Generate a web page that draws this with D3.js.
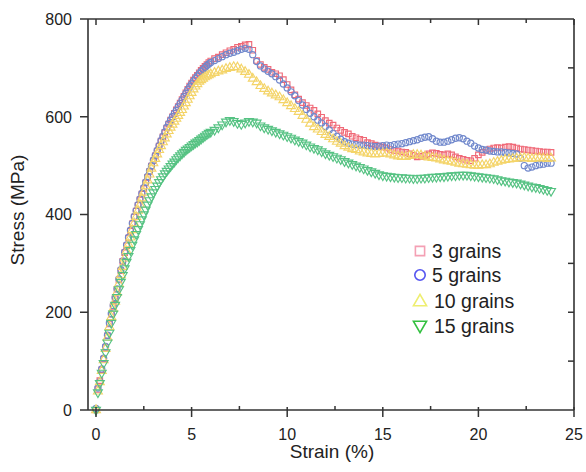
<!DOCTYPE html>
<html><head><meta charset="utf-8">
<script src="https://cdn.jsdelivr.net/npm/d3@7"></script>
<style>
html,body{margin:0;padding:0;background:#fff;}
svg{display:block;font-family:"Liberation Sans",Arial,sans-serif;}
</style></head>
<body><svg id="chart" width="586" height="472"></svg>
<script>
// ---- data ----
const strain = [
 0.0,0.1,0.2,0.3,0.4,0.5,0.6,0.7,0.8,0.9,1.0,1.1,1.2,1.3,1.4,1.5,1.6,1.7,1.8,1.9,
 2.0,2.1,2.2,2.3,2.4,2.5,2.6,2.7,2.8,2.9,3.0,3.1,3.2,3.3,3.4,3.5,3.6,3.7,3.8,3.9,
 4.0,4.1,4.2,4.3,4.4,4.5,4.6,4.7,4.8,4.9,5.0,5.1,5.2,5.3,5.4,5.5,5.6,5.7,5.8,5.9,6.0,
 6.2,6.4,6.6,6.8,7.0,7.2,7.4,7.6,7.8,8.0,
 8.2,8.4,8.6,8.8,9.0,9.2,9.4,9.6,9.8,10.0,
 10.2,10.4,10.6,10.8,11.0,11.2,11.4,11.6,11.8,12.0,
 12.2,12.4,12.6,12.8,13.0,13.2,13.4,13.6,13.8,14.0,
 14.2,14.4,14.6,14.8,15.0,15.2,15.4,15.6,15.8,16.0,
 16.2,16.4,16.6,16.8,17.0,17.2,17.4,17.6,17.8,18.0,
 18.2,18.4,18.6,18.8,19.0,19.2,19.4,19.6,19.8,20.0,
 20.2,20.4,20.6,20.8,21.0,21.2,21.4,21.6,21.8,22.0,
 22.2,22.4,22.6,22.8,23.0,23.2,23.4,23.6,23.8];

const grains3 = [
 0,42,60,82,104,128,152,176,196,212,228,247,266,285,304,322,336,352,366,381,
 395,407,419,430,442,453,465,476,488,499,510,520,530,540,550,559,568,577,585,593,
 600,607,614,621,628,635,642,649,656,663,669,675,680,685,690,695,699,703,707,711,714,
 719,722,727,731,735,738,742,744,747,748,
 736,715,707,701,697,691,688,684,676,666,
 655,645,636,629,623,618,613,606,599,592,
 587,583,577,572,568,565,560,557,554,552,
 547,545,542,540,538,536,533,531,530,528,
 527,524,521,518,519,521,524,526,525,523,
 522,524,522,518,515,513,511,510,515,522,
 527,531,534,536,537,536,538,539,538,536,
 534,533,532,531,530,529,528,528,527];

const grains5 = [
 3,45,58,84,106,130,153,178,197,214,230,248,268,287,305,323,338,353,368,382,
 396,408,420,432,443,455,466,478,489,500,511,521,531,541,551,560,569,578,586,593,
 600,607,613,620,627,634,641,648,655,661,667,673,678,683,688,693,697,701,705,708,711,
 715,719,723,727,730,732,735,738,740,738,
 727,713,704,698,693,688,682,675,667,659,
 651,643,633,624,615,607,600,593,587,580,
 573,566,560,554,549,546,544,543,542,542,
 541,540,539,540,541,542,541,543,544,545,
 547,549,551,553,556,558,559,555,550,548,
 548,550,553,556,557,555,550,546,540,536,
 533,532,530,529,528,528,527,526,525,524,
 515,500,495,497,500,502,503,505,505];

const grains10 = [
 0,38,57,80,102,125,148,170,190,207,222,240,258,276,293,310,325,339,353,368,
 382,395,408,420,433,445,458,470,482,494,505,514,523,532,540,548,556,564,571,578,
 584,590,596,602,608,614,621,628,635,642,649,656,662,667,672,675,678,681,683,685,687,
 690,693,695,698,700,702,701,697,692,686,
 678,671,663,657,652,648,644,640,634,628,
 622,616,610,602,594,586,579,574,569,563,
 559,554,549,545,540,537,534,532,529,527,
 525,524,523,524,525,525,523,521,519,518,
 518,520,522,522,521,519,517,516,515,513,
 511,509,508,506,504,503,502,501,500,500,
 501,501,503,506,508,510,512,513,514,515,
 515,516,515,514,515,516,515,514,515];

const grains15 = [
 0,36,55,76,96,118,138,158,178,197,215,231,247,262,276,290,303,315,327,338,
 349,360,370,380,390,400,410,420,429,437,445,452,459,466,472,478,484,489,494,499,
 504,508,513,517,521,525,528,532,535,538,541,544,547,549,552,555,558,561,564,567,569,
 573,578,584,590,593,591,587,585,588,591,
 590,588,582,578,575,572,569,566,563,560,
 557,553,550,547,543,539,536,533,529,525,
 522,519,516,513,509,506,503,500,497,494,
 491,488,485,482,480,479,478,477,476,476,
 475,475,474,474,475,475,476,477,477,478,
 478,479,480,480,481,481,481,480,479,478,
 477,476,475,474,472,470,469,467,466,465,
 463,461,459,457,456,454,452,450,448];

const seriesNames = ["3 grains","5 grains","10 grains","15 grains"];
const seriesValues = [grains3, grains5, grains10, grains15];
const seriesColors = ["#f06a78","#7088cc","#f4d468","#55c282"];
const legendColors = ["#f4a0b4","#5555f0","#eeee70","#33c040"];
const seriesSymbols = [d3.symbolSquare, d3.symbolCircle, d3.symbolTriangle, d3.symbolTriangle];
const seriesRotate = [0,0,0,180];

const xMajorTicks = [0,5,10,15,20,25];
const xMinorTicks = [2.5,7.5,12.5,17.5,22.5];
const yMajorTicks = [0,200,400,600,800];
const yRightTicks = [100,200,300,400,500,600,700];

// ---- layout ----
const svg = d3.select("#chart");
const x = d3.scaleLinear().domain([0,25]).range([96,574]);
const y = d3.scaleLinear().domain([0,800]).range([410,19]);
const pLeft = 88, pRight = x(25), pTop = y(800), pBottom = y(0);
const axisColor = "#333";

// data markers
seriesValues.forEach((vals, si) => {
  const sym = d3.symbol().type(seriesSymbols[si]).size(si < 2 ? 30 : 34);
  svg.append("g")
    .selectAll("path")
    .data(vals.map((v,i)=>[strain[i], v]))
    .join("path")
    .attr("d", sym)
    .attr("transform", d => `translate(${x(d[0])},${y(d[1])}) rotate(${seriesRotate[si]})`)
    .attr("fill", "none")
    .attr("stroke", seriesColors[si])
    .attr("stroke-width", 1.15);
});

// frame
const g = svg.append("g").attr("stroke", axisColor).attr("stroke-width", 1.6).attr("fill","none");
g.append("line").attr("x1",pLeft).attr("x2",pLeft).attr("y1",pTop).attr("y2",pBottom);
g.append("line").attr("x1",pRight).attr("x2",pRight).attr("y1",pTop).attr("y2",pBottom);
g.append("line").attr("x1",pLeft).attr("x2",pRight).attr("y1",pBottom).attr("y2",pBottom);
g.append("line").attr("x1",pLeft).attr("x2",pRight).attr("y1",pTop).attr("y2",pTop);

const tk = svg.append("g").attr("stroke", axisColor).attr("stroke-width", 1.5);
tk.selectAll(".yl").data(yMajorTicks).join("line")
  .attr("x1",pLeft-8).attr("x2",pLeft).attr("y1",d=>y(d)).attr("y2",d=>y(d));
tk.selectAll(".yr").data(yRightTicks).join("line")
  .attr("x1",pRight-6).attr("x2",pRight).attr("y1",d=>y(d)).attr("y2",d=>y(d));
tk.selectAll(".xb").data(xMajorTicks).join("line")
  .attr("x1",d=>x(d)).attr("x2",d=>x(d)).attr("y1",pBottom-3).attr("y2",pBottom+7);
tk.selectAll(".xbm").data(xMinorTicks).join("line")
  .attr("x1",d=>x(d)).attr("x2",d=>x(d)).attr("y1",pBottom-4).attr("y2",pBottom);
tk.selectAll(".xt").data(xMajorTicks).join("line")
  .attr("x1",d=>x(d)).attr("x2",d=>x(d)).attr("y1",pTop).attr("y2",pTop+6);
tk.selectAll(".xtm").data(xMinorTicks).join("line")
  .attr("x1",d=>x(d)).attr("x2",d=>x(d)).attr("y1",pTop).attr("y2",pTop+4);

// tick labels
svg.append("g").selectAll("text").data(yMajorTicks).join("text")
  .attr("x",72).attr("y",d=>y(d)).attr("dy","0.36em")
  .attr("text-anchor","end").attr("font-size",16).attr("fill","#222")
  .text(d=>d);
svg.append("g").selectAll("text").data(xMajorTicks).join("text")
  .attr("x",d=>x(d)).attr("y",440)
  .attr("text-anchor","middle").attr("font-size",16).attr("fill","#222")
  .text(d=>d);

// axis titles
svg.append("text").attr("x",332).attr("y",458).attr("text-anchor","middle")
  .attr("font-size",19).attr("fill","#222").text("Strain (%)");
svg.append("text").attr("transform","translate(24,210) rotate(-90)").attr("text-anchor","middle")
  .attr("font-size",19).attr("fill","#222").text("Stress (MPa)");

// legend
const legY = [251,275,301,326];
const leg = svg.append("g");
seriesNames.forEach((name, si) => {
  const sym = d3.symbol().type(seriesSymbols[si]).size(si < 2 ? 85 : 75);
  leg.append("path").attr("d", sym)
    .attr("transform", `translate(420,${legY[si] + (si===2? 1 : si===3 ? -1 : 0)}) rotate(${seriesRotate[si]})`)
    .attr("fill","none").attr("stroke", legendColors[si]).attr("stroke-width", 1.6);
  leg.append("text").attr("x", si < 2 ? 432 : 434).attr("y", legY[si]).attr("dy","0.36em")
    .attr("font-size",19.5).attr("fill","#222").text(name);
});
</script></body></html>
